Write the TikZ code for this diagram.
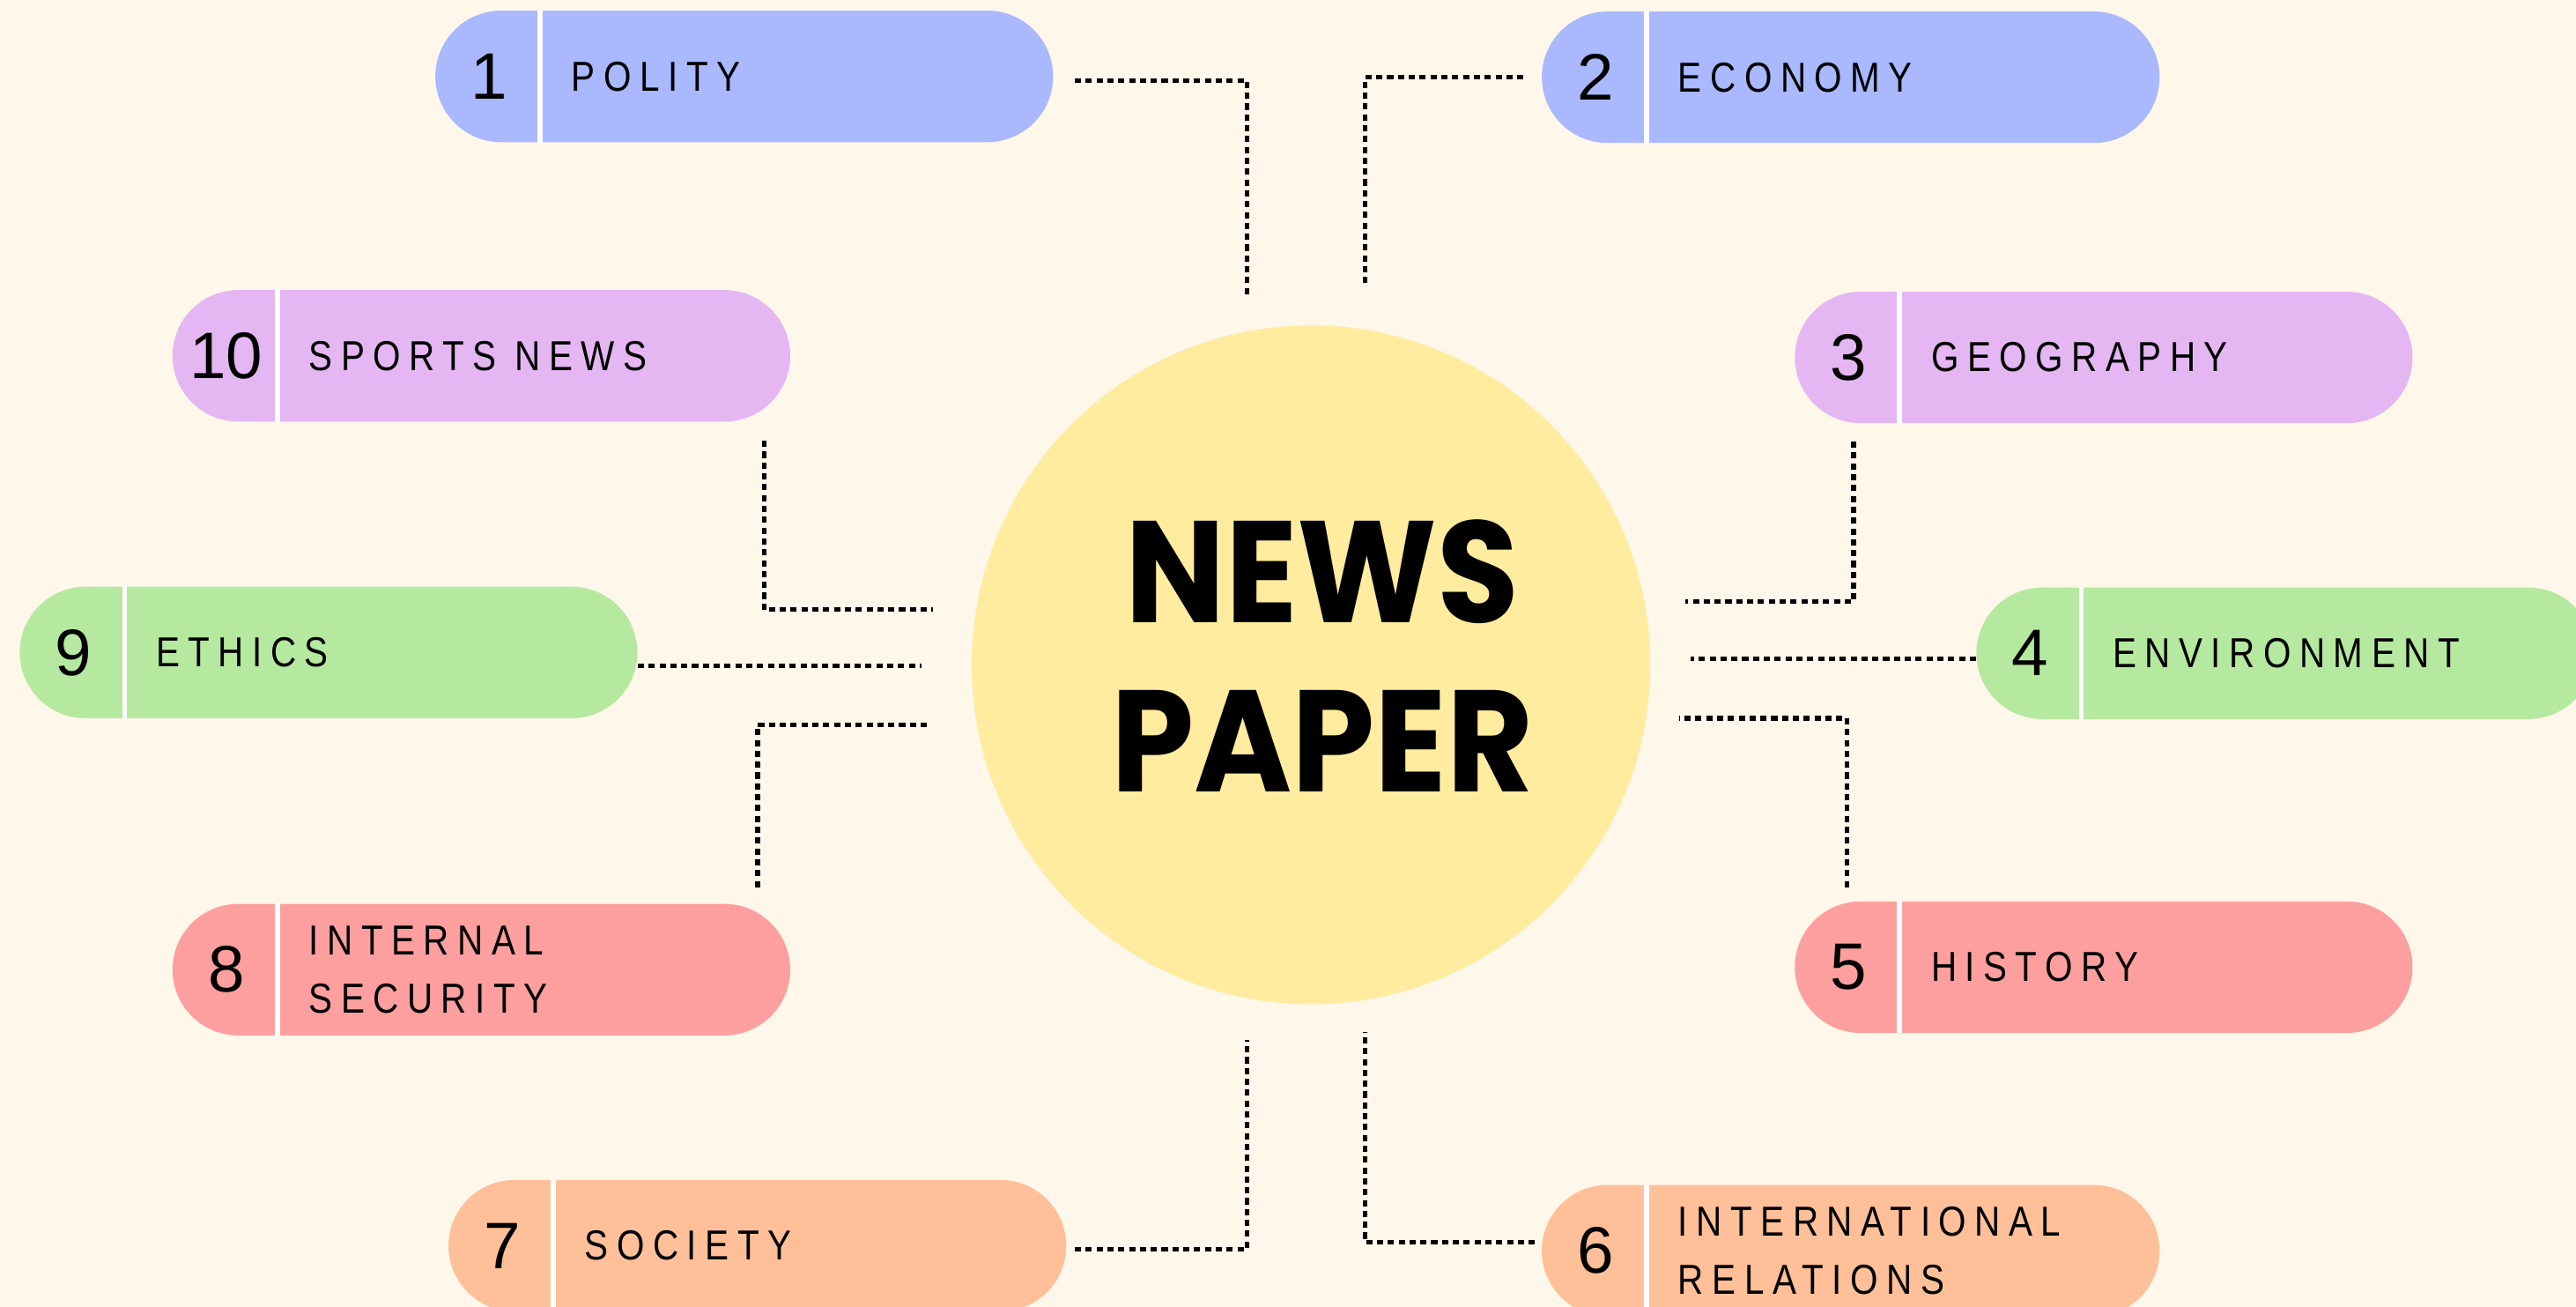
\documentclass[tikz,border=0pt]{standalone}
\usepackage{fontspec}
\newfontfamily\hubfont[FakeStretch=0.92]{Poppins}
\newfontfamily\pillfont[FakeStretch=0.85,LetterSpace=20]{Liberation Sans}
\newfontfamily\numfont{Liberation Sans}

\definecolor{cream}{HTML}{FEF7EA}
\definecolor{sun}{HTML}{FFEC9F}
\definecolor{polblue}{HTML}{AAB8FE}
\definecolor{lilac}{HTML}{E4B7F2}
\definecolor{mint}{HTML}{B6E9A0}
\definecolor{rosepink}{HTML}{FE9F9F}
\definecolor{peach}{HTML}{FFC099}

\tikzset{
  pill/.style={rectangle,rounded corners=40pt,minimum width=376pt,minimum height=80pt,inner sep=0pt},
  divider/.style={white,line width=3pt},
  num/.style={font=\numfont\fontsize{40}{42}\selectfont},
  lbl/.style={anchor=west,align=left,inner sep=0pt,font=\pillfont\fontsize{25.5}{35}\selectfont},
  link/.style={line width=2.8pt,dash pattern=on 3.8pt off 2.8pt},
  hub/.style={circle,fill=sun,minimum size=413pt,inner sep=0pt},
  hubtext/.style={align=center,inner sep=0pt,font=\hubfont\bfseries\fontsize{88}{103}\selectfont}
}

\begin{document}
\begin{tikzpicture}[x=1pt,y=-1pt]
\useasboundingbox (0,0) rectangle (1568,795);
\clip (0,0) rectangle (1568,795);
\fill[cream] (0,0) rectangle (1568,795);

% centre
\node[hub] (hub) at (798,404.5) {};
\node[hubtext] (title) at (805,399) {NEWS\\PAPER};

% the ten topics
\foreach \n/\cx/\cy/\col/\txt in {1/453/46.5/polblue/POLITY, 2/1126.5/47/polblue/ECONOMY,
  3/1280.5/217.5/lilac/GEOGRAPHY, 4/1391/397.5/mint/ENVIRONMENT, 5/1280.5/588.5/rosepink/HISTORY,
  6/1126.5/761/peach/{INTERNATIONAL\\RELATIONS}, 7/461/758/peach/SOCIETY,
  8/293/590/rosepink/{INTERNAL\\SECURITY}, 9/200/397/mint/ETHICS,
  10/293/216.5/lilac/{SPORTS NEWS}}{
  \node[pill,fill=\col] (p\n) at (\cx,\cy) {};
  \draw[divider] ([xshift=64pt]p\n.north west) -- ([xshift=64pt]p\n.south west);
  \node[num] (n\n) at ([xshift=33pt]p\n.west) {\n};
  \node[lbl] (t\n) at ([xshift=83pt]p\n.west) {\txt};
}

% free ends near the circle
\coordinate (e1) at (759,181);
\coordinate (e2) at (831,175);
\coordinate (e3) at (1026,366);
\coordinate (e4) at (1029,401);
\coordinate (e5) at (1022,437);
\coordinate (e6) at (831,628);
\coordinate (e7) at (759,633);
\coordinate (e8) at (565,441);
\coordinate (e9) at (561,405);
\coordinate (e10) at (568,371);

\draw[link] ([xshift=13pt,yshift=-2.5pt]p1.east) -| (e1);
\draw[link] ([xshift=-11pt]p2.west) -| (e2);
\draw[link] ([xshift=36pt,yshift=-11pt]p3.south west) |- (e3);
\draw[link] ([yshift=-3.5pt]p4.west) -- (e4);
\draw[link] ([xshift=32pt,yshift=8.5pt]p5.north west) |- (e5);
\draw[link] ([xshift=-4pt,yshift=5pt]p6.west) -| (e6);
\draw[link] ([xshift=5pt,yshift=-2pt]p7.east) -| (e7);
\draw[link] ([xshift=-20pt,yshift=10pt]p8.north east) |- (e8);
\draw[link] ([yshift=-8pt]p9.east) -- (e9);
\draw[link] ([xshift=-16pt,yshift=-11.5pt]p10.south east) |- (e10);
\end{tikzpicture}
\end{document}
